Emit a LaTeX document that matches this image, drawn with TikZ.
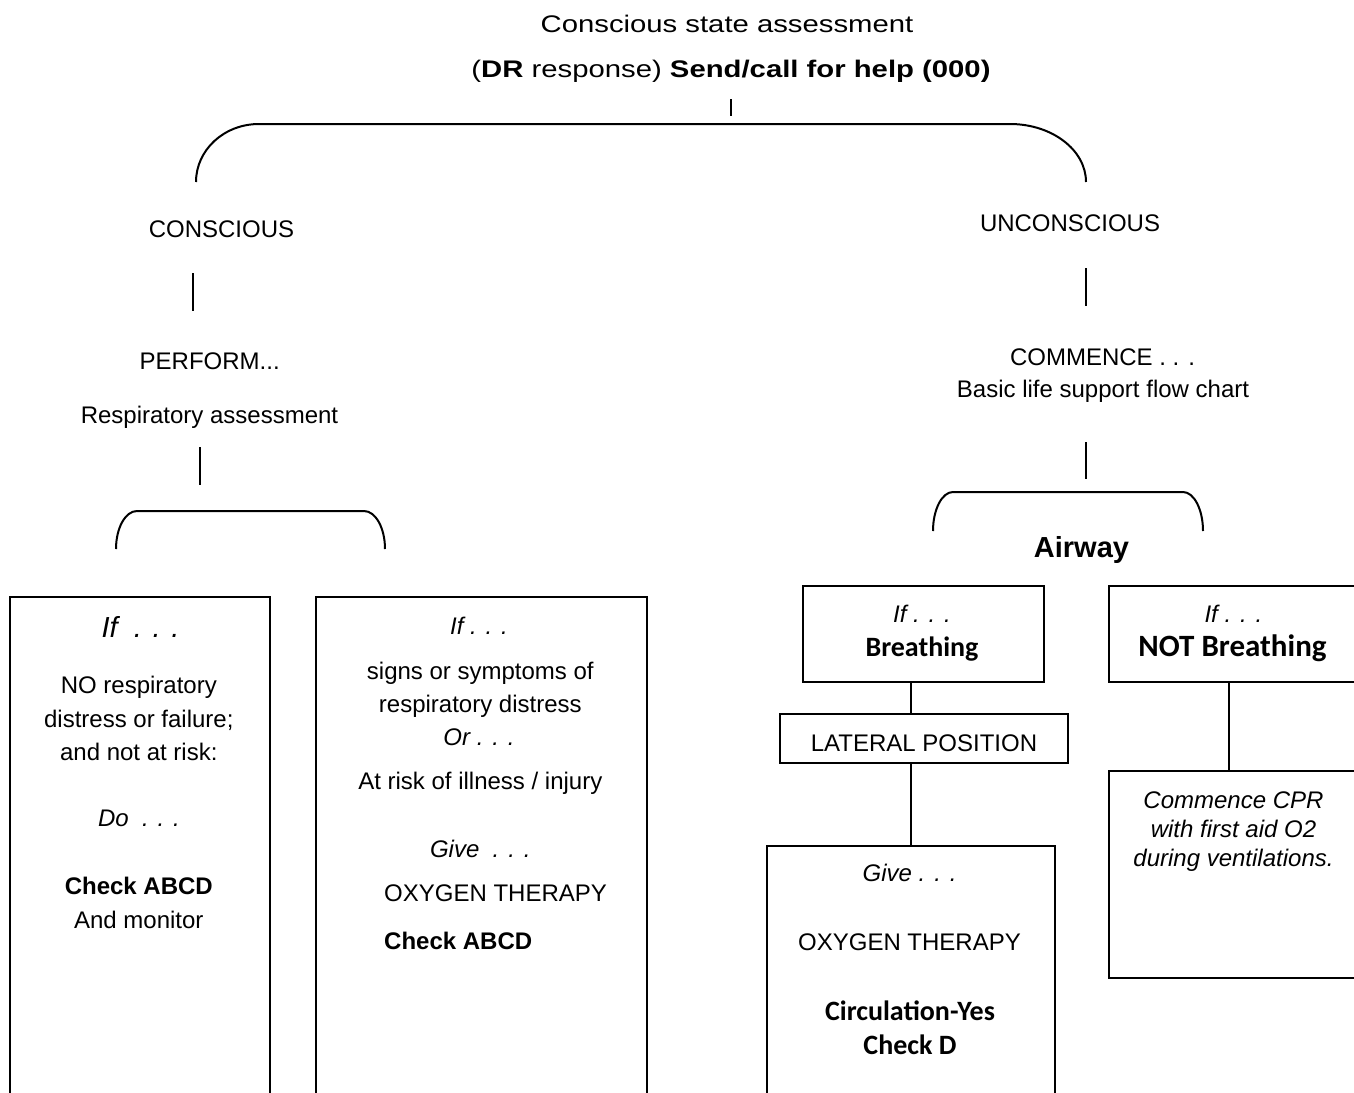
\documentclass[tikz,border=0pt]{standalone}
\usepackage{fontspec}
\setmainfont{Liberation Sans}
\newfontfamily\calib{Carlito}
\usepackage{graphicx}

\tikzset{
  txt/.style={font=\fontsize{12}{14}\selectfont, inner sep=0pt, anchor=base},
  bigtxt/.style={font=\fontsize{14.5}{17}\selectfont, inner sep=0pt, anchor=base},
  caltxt/.style={font=\calib\bfseries\fontsize{14}{17}\selectfont, inner sep=0pt, anchor=base},
  box/.style={draw, line width=1pt, inner sep=0pt, anchor=north west},
  link/.style={line width=1pt},
}
\newcommand{\wide}[1]{\scalebox{1.22}[1]{#1}}

\begin{document}
\begin{tikzpicture}[x=0.5pt, y=-0.5pt]
\useasboundingbox (0,0) rectangle (1354,1092);
\clip (0,0) rectangle (1354,1092);

% header
\node[txt] (title) at (727,32.5) {\wide{Conscious state assessment}};
\node[txt] (help) at (731,77) {\wide{(\textbf{DR} response) \textbf{Send/call for help (000)}}};
\draw[link] (730.5,99) -- (730.5,116);

% main split
\draw[link] (196,182) .. controls (196,150) and (224,124) .. (259,124)
  -- (1010,124) .. controls (1052,124) and (1086,150) .. (1086,182);
\node[txt] (conscious) at (221.5,237.3) {CONSCIOUS};
\node[txt] (unconscious) at (1070,231.7) {UNCONSCIOUS};

% conscious side
\draw[link] (193,273) -- (193,311);
\node[txt] (perform) at (209.7,369) {PERFORM...};
\node[txt] (respass) at (209.5,423) {Respiratory assessment};
\draw[link] (200,447) -- (200,485);
\draw[link] (116,549) .. controls (116,528) and (125.4,511) .. (137,511)
  -- (364,511) .. controls (375.6,511) and (385,528) .. (385,549);

\node[box, minimum width=130pt, minimum height=260pt] (noresp) at (8.5,596) {};
\node[bigtxt] (if1) at (140.5,637.5) {\textit{If\ \ . . .}};
\node[txt] (nr1) at (138.8,693.6) {NO respiratory};
\node[txt] (nr2) at (138.8,727) {distress or failure;};
\node[txt] (nr3) at (138.8,760) {and not at risk:};
\node[txt] (do1) at (139,826.7) {\textit{Do\ \ . . .}};
\node[txt] (chk1) at (138.8,894.5) {\textbf{Check ABCD}};
\node[txt] (mon1) at (138.8,928.6) {And monitor};

\node[box, minimum width=165.5pt, minimum height=260pt] (distress) at (315,596) {};
\node[txt] (if2) at (479,634.6) {\textit{If . . .}};
\node[txt] (ds1) at (480.3,679) {signs or symptoms of};
\node[txt] (ds2) at (480.3,712) {respiratory distress};
\node[txt] (or2) at (479,745.6) {\textit{Or . . .}};
\node[txt] (ds3) at (480.3,789) {At risk of illness / injury};
\node[txt] (give2) at (480.3,857) {\textit{Give\ \ . . .}};
\node[txt, anchor=base west] (oxy2) at (383.8,901.5) {OXYGEN THERAPY};
\node[txt, anchor=base west] (chk2) at (383.8,949) {\textbf{Check ABCD}};

% unconscious side
\draw[link] (1086,268) -- (1086,306);
\node[txt] (commence) at (1102.5,365) {COMMENCE . . .};
\node[txt] (bls) at (1103,397.7) {Basic life support flow chart};
\draw[link] (1086,442) -- (1086,479);
\draw[link] (933,531) .. controls (933,509.5) and (942,492) .. (953,492)
  -- (1183,492) .. controls (1194,492) and (1203,509.5) .. (1203,531);
\node[bigtxt] (airway) at (1081.5,557.7) {\textbf{Airway}};

\node[box, minimum width=120.5pt, minimum height=48pt] (breath) at (802,585) {};
\node[txt] (if3) at (922,622.7) {\textit{If . . .}};
\node[caltxt] (br3) at (922,656) {Breathing};

\node[box, minimum width=126pt, minimum height=48pt] (notbreath) at (1108,585) {};
\node[txt] (if4) at (1233.4,622.7) {\textit{If . . .}};
\node[caltxt, font=\calib\bfseries\fontsize{15.5}{18}\selectfont] (br4) at (1232.5,656) {NOT Breathing};

\node[box, font=\fontsize{12}{14}\selectfont, text height=13.2pt, minimum width=144pt, minimum height=24.5pt] (lateral) at (779,713) {LATERAL POSITION};

\node[box, minimum width=144pt, minimum height=130pt] (givebox) at (766,845) {};
\node[txt] (give5) at (909.6,881.7) {\textit{Give . . .}};
\node[txt] (oxy5) at (909.5,950) {OXYGEN THERAPY};
\node[caltxt] (circ5) at (910,1020) {Circulation-Yes};
\node[caltxt] (chk5) at (910,1054.5) {Check D};

\node[box, minimum width=126pt, minimum height=103.5pt] (cpr) at (1108,770) {};
\node[txt] (cpr1) at (1233.5,808) {\textit{Commence CPR}};
\node[txt] (cpr2) at (1233.5,837) {\textit{with first aid O2}};
\node[txt] (cpr3) at (1233.5,866) {\textit{during ventilations.}};

% connectors
\draw[link] (breath.south -| givebox.north) -- (lateral.north -| givebox.north);
\draw[link] (lateral.south -| givebox.north) -- (givebox.north);
\draw[link] ([xshift=-3pt]notbreath.south) -- ([xshift=-3pt]cpr.north);
\end{tikzpicture}
\end{document}
